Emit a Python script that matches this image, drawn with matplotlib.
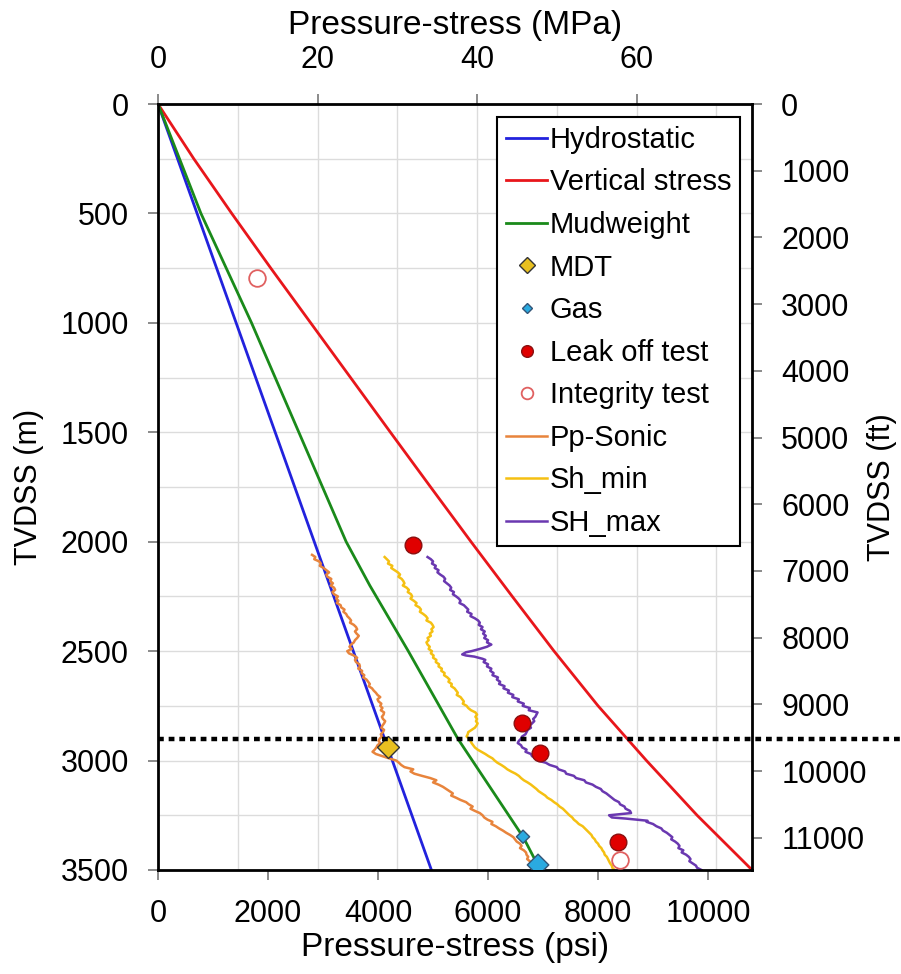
import numpy as np
import matplotlib
matplotlib.use('Agg')
import matplotlib.pyplot as plt

plt.rcParams['font.family'] = ['Liberation Sans', 'DejaVu Sans']

PSI_PER_MPA = 145.038
FT_PER_M = 3.28084

# gradients (depth m, psi)
hydro_depth = [0, 3500]
hydro_psi = [0, 4970]

sv_depth = [0, 250, 500, 750, 1000, 1250, 1500, 1750, 2000, 2250, 2500, 2750, 3000,
            3250, 3500]
sv_psi = [0, 650, 1340, 2050, 2775, 3500, 4225, 4955, 5690, 6440, 7200, 8000, 8880,
          9800, 10800]

mud_depth = [0, 500, 1000, 1500, 2000, 2200, 2500, 2900, 3350, 3500]
mud_psi = [0, 780, 1700, 2560, 3420, 3850, 4550, 5450, 6640, 6950]

# point data
mdt_depth = [2936]
mdt_psi = [4182]

gas_depth = [3348, 3477]
gas_psi = [6636, 6909]

lot_depth = [2016, 2828, 2966, 3372]
lot_psi = [4636, 6618, 6945, 8364]

fit_depth = [795, 3455]
fit_psi = [1800, 8400]

# log-derived curves, (depth m, psi)
pp_sonic = [
    (2060, 2800), (2070, 2860), (2080, 2840), (2090, 2930), (2100, 2960), (2110, 2940),
    (2120, 3010), (2130, 3060), (2140, 3110), (2150, 3060), (2160, 3080), (2170, 3150),
    (2180, 3130), (2190, 3180), (2200, 3140), (2210, 3200), (2220, 3220), (2230, 3170),
    (2240, 3200), (2250, 3270), (2260, 3240), (2270, 3280), (2280, 3250), (2290, 3320),
    (2300, 3330), (2310, 3390), (2320, 3370), (2330, 3420), (2340, 3440), (2350, 3480),
    (2360, 3510), (2370, 3490), (2380, 3560), (2390, 3600), (2400, 3620), (2410, 3580),
    (2420, 3610), (2430, 3650), (2440, 3620), (2450, 3580), (2460, 3560), (2470, 3510),
    (2480, 3480), (2490, 3520), (2500, 3440), (2510, 3470), (2520, 3560), (2530, 3620),
    (2540, 3580), (2550, 3600), (2560, 3660), (2570, 3670), (2580, 3640), (2590, 3710),
    (2600, 3700), (2610, 3750), (2620, 3730), (2630, 3790), (2640, 3820), (2650, 3850),
    (2660, 3830), (2670, 3890), (2680, 3920), (2690, 3960), (2700, 3990), (2710, 4040),
    (2720, 3990), (2730, 4010), (2740, 4060), (2750, 4040), (2760, 4080), (2770, 4050),
    (2780, 4110), (2790, 4100), (2800, 4070), (2810, 4090), (2820, 4130), (2830, 4110),
    (2840, 4080), (2850, 4060), (2860, 4110), (2870, 4090), (2880, 4050), (2890, 4070),
    (2900, 4030), (2910, 4010), (2920, 4040), (2930, 3990), (2940, 3970), (2950, 3940),
    (2960, 3900), (2970, 3960), (2980, 4080), (2990, 4200), (3000, 4330), (3010, 4380),
    (3020, 4420), (3030, 4480), (3040, 4640), (3050, 4590), (3060, 4660), (3070, 4800),
    (3080, 4950), (3090, 5060), (3100, 5000), (3110, 5100), (3120, 5180), (3130, 5240),
    (3140, 5300), (3150, 5360), (3160, 5330), (3170, 5420), (3180, 5500), (3190, 5600),
    (3200, 5650), (3210, 5720), (3220, 5680), (3230, 5760), (3240, 5850), (3250, 5900),
    (3260, 5930), (3270, 5990), (3280, 6080), (3290, 6060), (3300, 6140), (3310, 6200),
    (3320, 6270), (3330, 6330), (3340, 6400), (3350, 6460), (3360, 6490), (3370, 6520),
    (3380, 6580), (3390, 6610), (3400, 6580), (3410, 6650), (3420, 6690), (3430, 6700),
    (3440, 6730), (3450, 6710), (3460, 6760), (3470, 6790), (3480, 6800), (3490, 6840),
    (3500, 6900)]

sh_min = [
    (2070, 4120), (2080, 4160), (2090, 4200), (2100, 4180), (2110, 4260), (2120, 4240),
    (2130, 4300), (2140, 4360), (2150, 4400), (2160, 4370), (2170, 4430), (2180, 4460),
    (2190, 4480), (2200, 4450), (2210, 4520), (2220, 4560), (2230, 4540), (2240, 4600),
    (2250, 4620), (2260, 4590), (2270, 4650), (2280, 4700), (2290, 4680), (2300, 4750),
    (2310, 4780), (2320, 4760), (2330, 4820), (2340, 4870), (2350, 4900), (2360, 4880),
    (2370, 4960), (2380, 4990), (2390, 5010), (2400, 4970), (2410, 4990), (2420, 4940),
    (2430, 4960), (2440, 4900), (2450, 4920), (2460, 4880), (2470, 4900), (2480, 4940),
    (2490, 4920), (2500, 4980), (2510, 4960), (2520, 5010), (2530, 5000), (2540, 5060),
    (2550, 5050), (2560, 5110), (2570, 5100), (2580, 5160), (2590, 5150), (2600, 5210),
    (2610, 5200), (2620, 5260), (2630, 5300), (2640, 5280), (2650, 5340), (2660, 5330),
    (2670, 5390), (2680, 5420), (2690, 5450), (2700, 5430), (2710, 5500), (2720, 5530),
    (2730, 5560), (2740, 5540), (2750, 5610), (2760, 5640), (2770, 5690), (2780, 5770),
    (2790, 5800), (2800, 5770), (2810, 5800), (2820, 5780), (2830, 5810), (2840, 5790),
    (2850, 5760), (2860, 5700), (2870, 5640), (2880, 5630), (2890, 5610), (2900, 5650),
    (2910, 5680), (2920, 5700), (2930, 5730), (2940, 5760), (2950, 5810), (2960, 5880),
    (2970, 5950), (2980, 6010), (2990, 6080), (3000, 6120), (3010, 6170), (3020, 6240),
    (3030, 6300), (3040, 6350), (3050, 6420), (3060, 6500), (3070, 6560), (3080, 6600),
    (3090, 6650), (3100, 6720), (3110, 6780), (3120, 6830), (3130, 6880), (3140, 6920),
    (3150, 6980), (3160, 7040), (3170, 7080), (3180, 7150), (3190, 7200), (3200, 7260),
    (3210, 7300), (3220, 7360), (3230, 7400), (3240, 7440), (3250, 7480), (3260, 7530),
    (3270, 7560), (3280, 7610), (3290, 7650), (3300, 7720), (3310, 7760), (3320, 7800),
    (3330, 7840), (3340, 7880), (3350, 7900), (3360, 7940), (3370, 7960), (3380, 8000),
    (3390, 8020), (3400, 8060), (3410, 8080), (3420, 8110), (3430, 8120), (3440, 8160),
    (3450, 8180), (3460, 8200), (3470, 8220), (3480, 8250), (3490, 8260), (3500, 8300)]

sh_max = [
    (2070, 4900), (2080, 4960), (2090, 5000), (2100, 4980), (2110, 5050), (2120, 5030),
    (2130, 5100), (2140, 5080), (2150, 5130), (2160, 5190), (2170, 5220), (2180, 5200),
    (2190, 5250), (2200, 5300), (2210, 5330), (2220, 5310), (2230, 5380), (2240, 5360),
    (2250, 5420), (2260, 5470), (2270, 5500), (2280, 5480), (2290, 5560), (2300, 5600),
    (2310, 5640), (2320, 5620), (2330, 5700), (2340, 5680), (2350, 5760), (2360, 5820),
    (2370, 5850), (2380, 5830), (2390, 5900), (2400, 5870), (2410, 5940), (2420, 5910),
    (2430, 5960), (2440, 5930), (2450, 6000), (2460, 5980), (2470, 6060), (2480, 5980),
    (2490, 5850), (2500, 5700), (2505, 5600), (2515, 5530), (2520, 5600), (2525, 5750),
    (2535, 5900), (2540, 5950), (2550, 5920), (2560, 6000), (2570, 5980), (2580, 6060),
    (2590, 6040), (2600, 6100), (2610, 6080), (2620, 6180), (2630, 6160), (2640, 6220),
    (2650, 6200), (2660, 6300), (2670, 6280), (2680, 6380), (2690, 6360), (2700, 6460),
    (2710, 6440), (2720, 6560), (2730, 6540), (2740, 6650), (2750, 6630), (2760, 6760),
    (2770, 6740), (2780, 6900), (2790, 6880), (2800, 6860), (2810, 6820), (2820, 6840),
    (2830, 6800), (2840, 6760), (2850, 6780), (2860, 6720), (2870, 6700), (2880, 6680),
    (2890, 6620), (2900, 6600), (2910, 6560), (2920, 6540), (2930, 6600), (2940, 6620),
    (2950, 6700), (2960, 6680), (2970, 6780), (2980, 6800), (2990, 6880), (3000, 6900),
    (3010, 7050), (3020, 7120), (3030, 7250), (3040, 7280), (3050, 7400), (3060, 7420),
    (3070, 7560), (3080, 7600), (3090, 7750), (3100, 7780), (3110, 7900), (3120, 7960),
    (3130, 8050), (3140, 8080), (3150, 8150), (3160, 8200), (3170, 8250), (3180, 8300),
    (3190, 8380), (3200, 8400), (3210, 8480), (3220, 8500), (3230, 8580), (3240, 8600),
    (3245, 8400), (3250, 8200), (3260, 8250), (3265, 8500), (3275, 8900), (3280, 8880),
    (3290, 9000), (3300, 9060), (3310, 9150), (3320, 9180), (3330, 9250), (3340, 9300),
    (3350, 9350), (3360, 9330), (3370, 9400), (3380, 9450), (3390, 9480), (3400, 9460),
    (3410, 9550), (3420, 9520), (3430, 9600), (3440, 9650), (3450, 9680), (3460, 9660),
    (3470, 9720), (3480, 9780), (3490, 9800), (3500, 9880)]

dotted_depth = 2900

fig = plt.figure(figsize=(9.01, 9.74), dpi=100)
ax = fig.add_axes([0.1754, 0.1068, 0.6593, 0.7864])

lw = 2.0
ax.plot(hydro_psi, hydro_depth, color='#2222dd', lw=lw, label='Hydrostatic')
ax.plot(sv_psi, sv_depth, color='#e8161b', lw=lw, label='Vertical stress')
ax.plot(mud_psi, mud_depth, color='#1a8a1a', lw=lw, label='Mudweight')

d, p = zip(*pp_sonic)
ax.plot(p, d, color='#e8843c', lw=1.8, label='Pp-Sonic', zorder=2)
d, p = zip(*sh_min)
ax.plot(p, d, color='#f5c012', lw=1.8, label='Sh_min', zorder=2)
d, p = zip(*sh_max)
ax.plot(p, d, color='#6a38b0', lw=1.8, label='SH_max', zorder=2)

ax.plot(mdt_psi, mdt_depth, 'D', ms=11, mfc='#e8c020', mec='#333333', mew=1,
        ls='none', label='MDT', zorder=4)
ax.scatter(gas_psi, gas_depth, marker='D', s=[45, 120], c='#2aaae0',
           edgecolors='#335577', linewidths=1, zorder=4)
ax.plot([], [], 'D', ms=8, mfc='#2aaae0', mec='#335577', mew=1, ls='none', label='Gas')
ax.plot(lot_psi, lot_depth, 'o', ms=12, mfc='#e00000', mec='#8a1010', mew=1,
        ls='none', label='Leak off test', zorder=4)
ax.plot(fit_psi, fit_depth, 'o', ms=12, mfc='white', mec='#e06060', mew=1.3,
        ls='none', label='Integrity test', zorder=4)

ax.plot([0, 1.25], [dotted_depth, dotted_depth], transform=ax.get_yaxis_transform(),
        color='black', lw=3.2, ls=(0, (1.3, 1.1)), clip_on=False, zorder=5)

ax.set_xlim(0, 10800)
ax.set_ylim(3500, 0)
ax.set_xticks(np.arange(0, 10001, 2000))
ax.set_yticks(np.arange(0, 3501, 500))
ax.set_xticks(np.arange(10, 75, 10) * PSI_PER_MPA, minor=True)
ax.set_yticks(np.arange(250, 3500, 500), minor=True)
ax.grid(True, which='minor', axis='x', color='#dcdcdc', lw=1)
ax.grid(True, which='both', axis='y', color='#dcdcdc', lw=1)
ax.set_axisbelow(True)
ax.tick_params(which='major', direction='out', length=7, width=1.2, pad=14,
               labelsize=22, color='#777777')
ax.tick_params(which='minor', length=0)
for s in ax.spines.values():
    s.set_linewidth(2)
ax.set_xlabel('Pressure-stress (psi)', fontsize=24, labelpad=2)
ax.set_ylabel('TVDSS (m)', fontsize=22, labelpad=12)

top = ax.secondary_xaxis('top', functions=(lambda p: p / PSI_PER_MPA,
                                            lambda m: m * PSI_PER_MPA))
top.set_xticks([0, 20, 40, 60])
top.tick_params(direction='out', length=7, width=1.2, pad=14, labelsize=22,
                color='#777777')
top.set_xlabel('Pressure-stress (MPa)', fontsize=24, labelpad=8)

right = ax.secondary_yaxis('right', functions=(lambda m: m * FT_PER_M,
                                                lambda f: f / FT_PER_M))
right.set_yticks(np.arange(0, 11001, 1000))
right.tick_params(direction='out', length=7, width=1.2, pad=14, labelsize=22,
                  color='#777777')
right.set_ylabel('TVDSS (ft)', fontsize=22, labelpad=0)

handles, labels = ax.get_legend_handles_labels()
order = ['Hydrostatic', 'Vertical stress', 'Mudweight', 'MDT', 'Gas', 'Leak off test',
         'Integrity test', 'Pp-Sonic', 'Sh_min', 'SH_max']
hmap = dict(zip(labels, handles))
leg = ax.legend([hmap[k] for k in order], order, loc='upper right',
                bbox_to_anchor=(0.98, 0.983), borderaxespad=0, fontsize=21,
                handlelength=1.4, handletextpad=0.1, labelspacing=0.5,
                borderpad=0.3, fancybox=False, framealpha=1, markerscale=0.7)
leg.get_frame().set_edgecolor('black')
leg.get_frame().set_linewidth(1.5)

plt.savefig('out.png', dpi=100)
plt.close(fig)
